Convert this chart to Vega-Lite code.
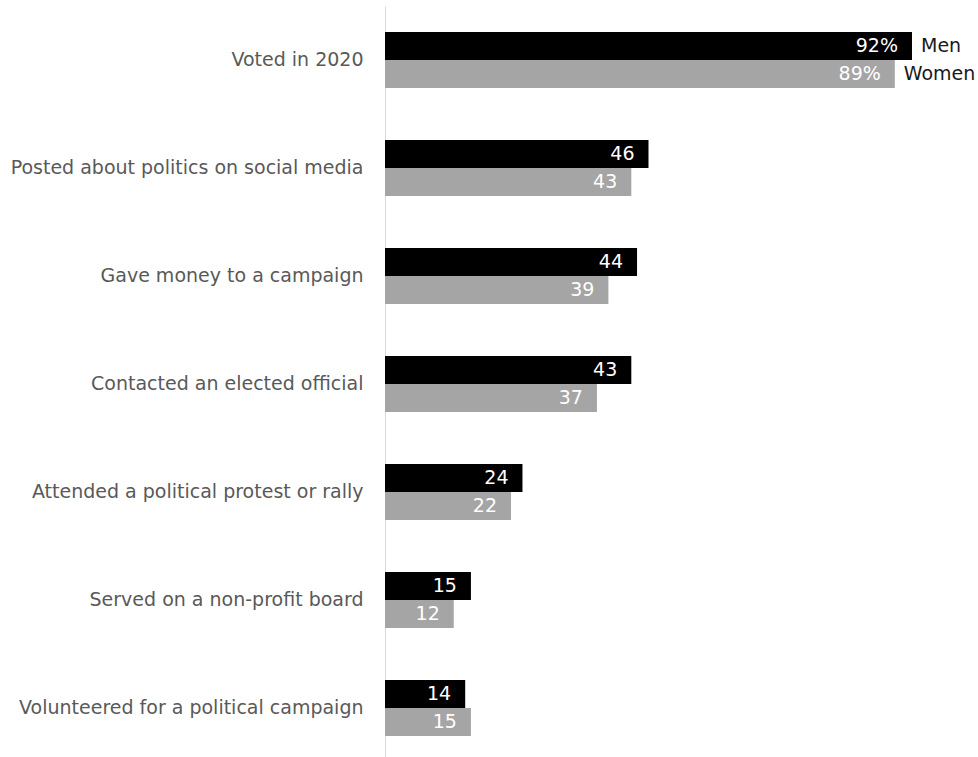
{
  "$schema": "https://vega.github.io/schema/vega-lite/v6.json",
  "width": 590,
  "height": 756,
  "autosize": "none",
  "padding": {"left": 385, "top": 6, "right": 3, "bottom": 0},
  "background": "white",
  "config": {"view": {"stroke": null}, "font": "DejaVu Sans"},
  "data": {
    "values": [
      {"activity": "Voted in 2020", "sex": "Men", "value": 92, "label": "92%"},
      {"activity": "Voted in 2020", "sex": "Women", "value": 89, "label": "89%"},
      {"activity": "Posted about politics on social media", "sex": "Men", "value": 46, "label": "46"},
      {"activity": "Posted about politics on social media", "sex": "Women", "value": 43, "label": "43"},
      {"activity": "Gave money to a campaign", "sex": "Men", "value": 44, "label": "44"},
      {"activity": "Gave money to a campaign", "sex": "Women", "value": 39, "label": "39"},
      {"activity": "Contacted an elected official", "sex": "Men", "value": 43, "label": "43"},
      {"activity": "Contacted an elected official", "sex": "Women", "value": 37, "label": "37"},
      {"activity": "Attended a political protest or rally", "sex": "Men", "value": 24, "label": "24"},
      {"activity": "Attended a political protest or rally", "sex": "Women", "value": 22, "label": "22"},
      {"activity": "Served on a non-profit board", "sex": "Men", "value": 15, "label": "15"},
      {"activity": "Served on a non-profit board", "sex": "Women", "value": 12, "label": "12"},
      {"activity": "Volunteered for a political campaign", "sex": "Men", "value": 14, "label": "14"},
      {"activity": "Volunteered for a political campaign", "sex": "Women", "value": 15, "label": "15"}
    ]
  },
  "encoding": {
    "y": {
      "field": "activity", "type": "nominal", "sort": null,
      "scale": {"paddingInner": 0.48, "paddingOuter": 0.24},
      "axis": {
        "title": null, "ticks": false, "domainColor": "#d9d9d9", "domainWidth": 1,
        "labelColor": "#595959", "labelFontSize": 19, "labelPadding": 22,
        "labelLimit": 400
      }
    },
    "yOffset": {"field": "sex", "type": "nominal", "sort": ["Men", "Women"], "scale": {"paddingInner": 0, "paddingOuter": 0}},
    "x": {"field": "value", "type": "quantitative", "scale": {"domain": [0, 103]}, "axis": null}
  },
  "layer": [
    {
      "mark": {"type": "bar", "cornerRadius": 0},
      "encoding": {
        "color": {"field": "sex", "type": "nominal", "scale": {"domain": ["Men", "Women"], "range": ["#000000", "#a5a5a5"]}, "legend": null}
      }
    },
    {
      "mark": {"type": "text", "align": "right", "baseline": "middle", "dx": -14, "color": "white", "fontSize": 19},
      "encoding": {"text": {"field": "label"}}
    },
    {
      "transform": [{"filter": "datum.activity === 'Voted in 2020'"}],
      "mark": {"type": "text", "align": "left", "baseline": "middle", "dx": 9, "color": "#1a1a1a", "fontSize": 19},
      "encoding": {"text": {"field": "sex"}}
    }
  ]
}
